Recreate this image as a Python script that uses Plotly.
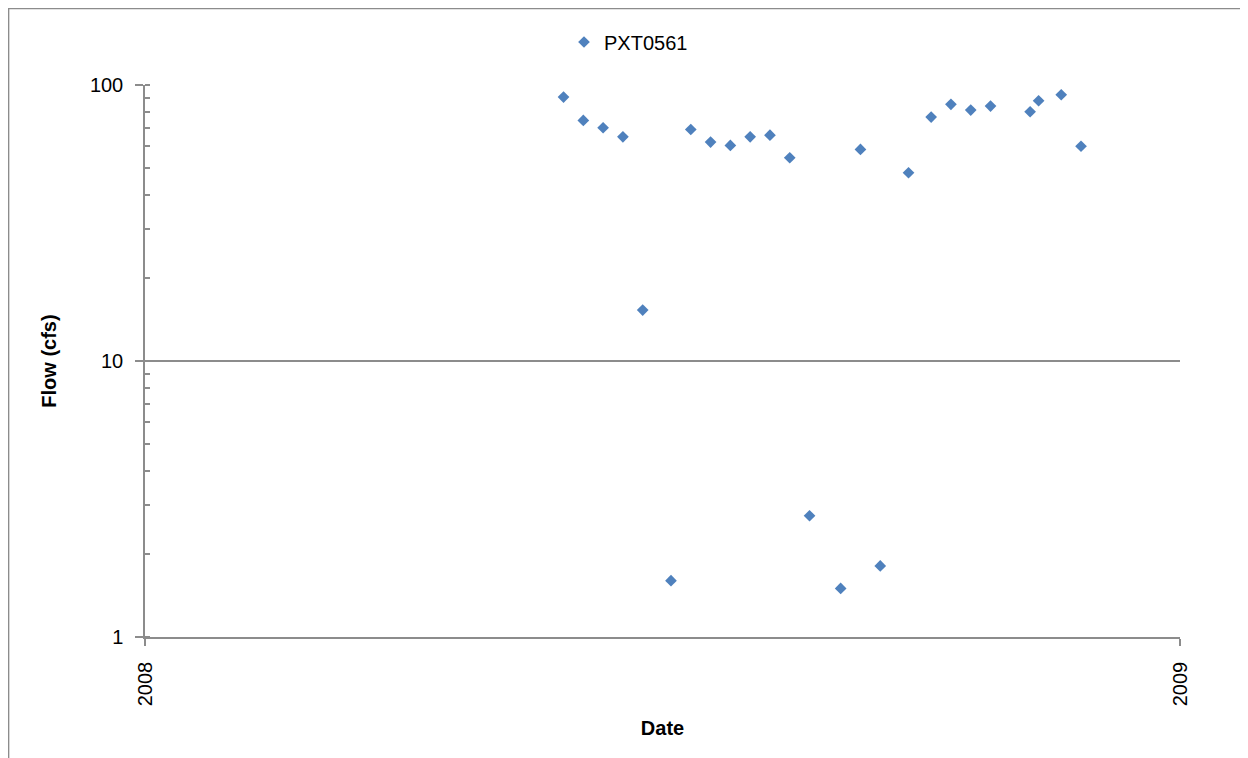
import plotly.graph_objects as go

# ---- data ----
dates = [
    "2008-05-28", "2008-06-04", "2008-06-11", "2008-06-18", "2008-06-25",
    "2008-07-05", "2008-07-12", "2008-07-19", "2008-07-26", "2008-08-02",
    "2008-08-09", "2008-08-16", "2008-08-23", "2008-09-03", "2008-09-10",
    "2008-09-17", "2008-09-27", "2008-10-05", "2008-10-12", "2008-10-19",
    "2008-10-26", "2008-11-09", "2008-11-12", "2008-11-20", "2008-11-27",
]
flow_cfs = [
    90.4, 74.4, 70.0, 64.9, 15.3,
    1.60, 69.0, 62.1, 60.4, 64.9,
    65.8, 54.5, 2.75, 1.50, 58.4,
    1.81, 48.1, 76.5, 85.1, 81.1,
    83.9, 80.0, 87.7, 92.2, 60.0,
]
series_name = "PXT0561"
x_tick_vals = ["2008-01-01", "2009-01-01"]
x_tick_text = ["2008", "2009"]
y_tick_vals = [1, 10, 100]
y_tick_text = ["1", "10", "100"]

FONT = "Liberation Sans Narrow, Arial Narrow, Liberation Sans, Arial, sans-serif"
GRAY = "#8c8c8c"
OFF = 8                     # page body margin
W, H = 1248 - OFF, 758 - OFF
L, R, T, B = 145 - OFF, 1180 - OFF, 85 - OFF, 637 - OFF

fig = go.Figure()
fig.add_trace(go.Scatter(
    x=dates, y=flow_cfs, mode="markers", name=series_name,
    marker=dict(symbol="diamond", size=9, color="#4f81bd", line=dict(width=0)),
))

# chart-area frame: only its left and top edges fall inside the picture
pw, ph = R - L, B - T
fx0 = (0.6 - L) / pw
fx1 = (W + 40 - L) / pw
fy0 = (B - H - 40) / ph
fy1 = (B - 0.6) / ph
fig.add_shape(type="path", xref="paper", yref="paper",
              path=f"M {fx0},{fy0} L {fx0},{fy1} L {fx1},{fy1}",
              line=dict(color=GRAY, width=1.5), layer="below")

fig.update_layout(
    width=W, height=H,
    margin=dict(l=L, r=W - R, t=T, b=H - B, pad=0),
    paper_bgcolor="white", plot_bgcolor="white",
    font=dict(family=FONT, size=20, color="black"),
    showlegend=True,
    legend=dict(orientation="h", x=(564 - 8 - L) / pw, xanchor="left",
                y=(B - (42 - OFF)) / ph, yanchor="middle",
                font=dict(family=FONT, size=20, color="black"),
                bgcolor="rgba(0,0,0,0)"),
    xaxis=dict(
        type="date", range=["2008-01-01", "2009-01-01"],
        tickmode="array", tickvals=x_tick_vals, ticktext=x_tick_text,
        tickangle=-90, showgrid=False, zeroline=False,
        showline=True, linecolor=GRAY, linewidth=1.5,
        ticks="outside", ticklen=7, tickcolor=GRAY, tickwidth=1.5,
        ticklabelstandoff=8,
        title=dict(text="<b>Date</b>", font=dict(family=FONT, size=20), standoff=16),
    ),
    yaxis=dict(
        type="log", range=[0, 2],
        tickmode="array", tickvals=y_tick_vals, ticktext=y_tick_text,
        showgrid=True, gridcolor=GRAY, gridwidth=1.5, zeroline=False,
        showline=True, linecolor=GRAY, linewidth=1.5,
        ticks="outside", ticklen=8, tickcolor=GRAY, tickwidth=1.5,
        ticklabelstandoff=8,
        minor=dict(ticks="inside", ticklen=5, tickcolor=GRAY, tickwidth=1.5,
                   dtick="D1", showgrid=False),
        title=dict(text="<b>Flow (cfs)</b>", font=dict(family=FONT, size=20), standoff=28),
    ),
)

fig.write_html("out.html")
